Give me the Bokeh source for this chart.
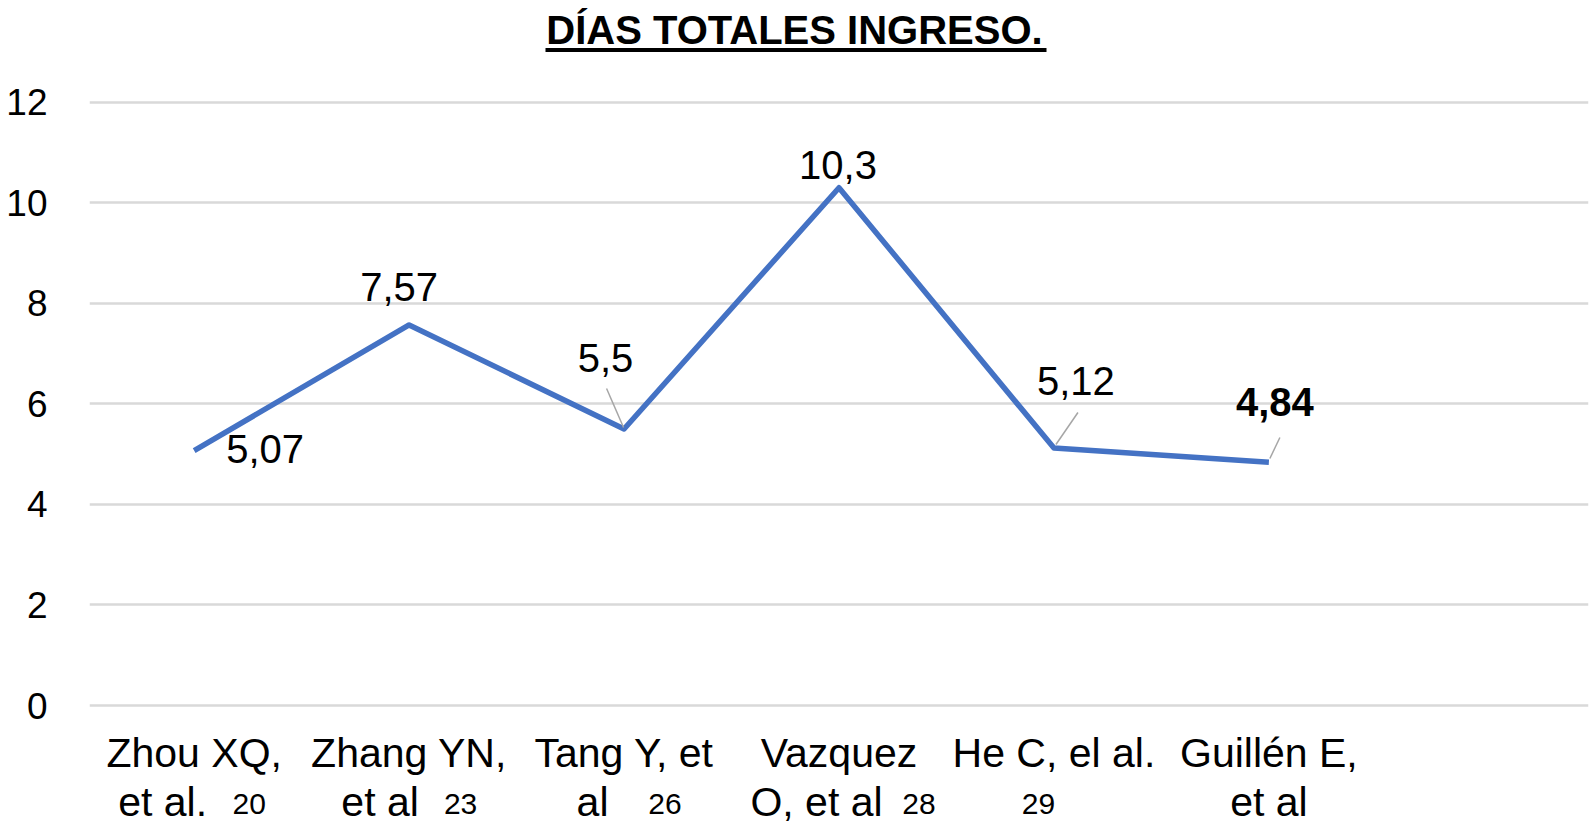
from bokeh.plotting import figure
from bokeh.models import FactorRange, Range1d, FixedTicker, ColumnDataSource
from bokeh.core.properties import value
from bokeh.embed import file_html
from bokeh.resources import INLINE

# ---------------- data ----------------
title_text = "DÍAS TOTALES INGRESO."
studies = ["Zhou XQ, et al. 20", "Zhang YN, et al 23", "Tang Y, et al 26",
           "Vazquez O, et al 28", "He C, el al. 29", "Guillén E, et al"]
label_line1 = ["Zhou XQ,", "Zhang YN,", "Tang Y, et", "Vazquez", "He C, el al.", "Guillén E,"]
label_line2 = ["et al.", "et al", "al", "O, et al", "", "et al"]
ref_numbers = ["20", "23", "26", "28", "29", ""]
days = [5.07, 7.57, 5.5, 10.3, 5.12, 4.84]
day_labels = ["5,07", "7,57", "5,5", "10,3", "5,12", "4,84"]
y_ticks = [0, 2, 4, 6, 8, 10, 12]

# ---------------- layout / style ----------------
W, H = 1591, 830
FL = 89                 # frame left (px)
FR = 3                  # right border
PAD = -0.013            # factor range padding
NSLOTS = len(studies) + 1
SLOT_PX = (W - FL - FR) / (NSLOTS + 2 * PAD)
X_START = -PAD
Y0 = 705                # canvas y of value 0
PPU = 50.27             # px per unit
FONT = "Liberation Sans"

def px_x(cx):
    return X_START + (cx - FL) / SLOT_PX

def px_y(cy):
    return (Y0 - cy) / PPU

factors = studies + [" "]
p = figure(width=W, height=H, x_range=FactorRange(factors=factors, range_padding=PAD,
                                                   range_padding_units="absolute"),
           y_range=Range1d(-(H - Y0) / PPU, Y0 / PPU),
           output_backend="svg", toolbar_location=None, x_axis_location=None,
           min_border_left=FL, min_border_right=FR, min_border_top=0, min_border_bottom=0)
p.outline_line_color = None
p.background_fill_color = "white"
p.border_fill_color = "white"

ticker = FixedTicker(ticks=y_ticks)
p.yaxis.ticker = ticker
p.yaxis.axis_line_color = None
p.yaxis.major_tick_line_color = None
p.yaxis.minor_tick_line_color = None
p.yaxis.major_tick_out = 0
p.yaxis.major_label_standoff = 42
p.yaxis.major_label_text_font = FONT
p.yaxis.major_label_text_font_size = "37px"
p.yaxis.major_label_text_color = "#000000"
p.xgrid.grid_line_color = None
p.ygrid.ticker = ticker
p.ygrid.grid_line_color = "#d9d9d9"
p.ygrid.grid_line_width = 2.5

# line
src = ColumnDataSource(dict(x=studies, y=days, t=day_labels,
                            dx=[71, -10, -18.5, -1, 22, 6],
                            dy=[-1.7, -38.2, -71.2, -22.9, -67.3, -60.4],
                            st=["normal"] * 5 + ["bold"]))
p.line("x", "y", source=src, line_color="#4472C4", line_width=5.5, line_join="round")

# leader lines (offsets in px from the point)
lead = {2: (-17.5, -40.5, -0.5, -1.5), 4: (24, -35.6, 2, -3.6), 5: (11, -24.7, 1, -3.7)}
lx0, ly0, lx1, ly1 = [], [], [], []
for i, (ax, ay, bx, by) in lead.items():
    cx = i + 0.5
    lx0.append(cx + ax / SLOT_PX); ly0.append(days[i] - ay / PPU)
    lx1.append(cx + bx / SLOT_PX); ly1.append(days[i] - by / PPU)
p.segment(x0=lx0, y0=ly0, x1=lx1, y1=ly1, line_color="#a6a6a6", line_width=1.5)

# data labels
p.text("x", "y", text="t", source=src, x_offset="dx", y_offset="dy",
       text_font=value(FONT), text_font_size="40px", text_font_style="st",
       text_color="#000000", text_align="center", text_baseline="alphabetic")

# category labels
p.text(x=studies, y=[0] * len(studies), text=label_line1, y_offset=47,
       text_font=value(FONT), text_font_size="41px", text_color="#000000",
       text_align="center", text_baseline="alphabetic")
p.text(x=studies, y=[0] * len(studies), text=label_line2, y_offset=96,
       x_offset=[-31.5, -29, -31.5, -22.5, 0, 0],
       text_font=value(FONT), text_font_size="41px", text_color="#000000",
       text_align="center", text_baseline="alphabetic")
p.text(x=studies, y=[0] * len(studies), text=ref_numbers, y_offset=98.5,
       x_offset=[55, 51.5, 41, 80, -15.5, 0],
       text_font=value(FONT), text_font_size="30px", text_color="#000000",
       text_align="center", text_baseline="alphabetic")

# title with underline
p.text(x=[px_x(794)], y=[px_y(29)], text=[title_text],
       text_font=value(FONT), text_font_size="40px", text_font_style="bold",
       text_color="#000000", text_align="center", text_baseline="alphabetic")
p.segment(x0=[px_x(545)], y0=[px_y(49.5)], x1=[px_x(1046)], y1=[px_y(49.5)],
          line_color="#000000", line_width=4)

open("out.html", "w").write(file_html(p, INLINE))
